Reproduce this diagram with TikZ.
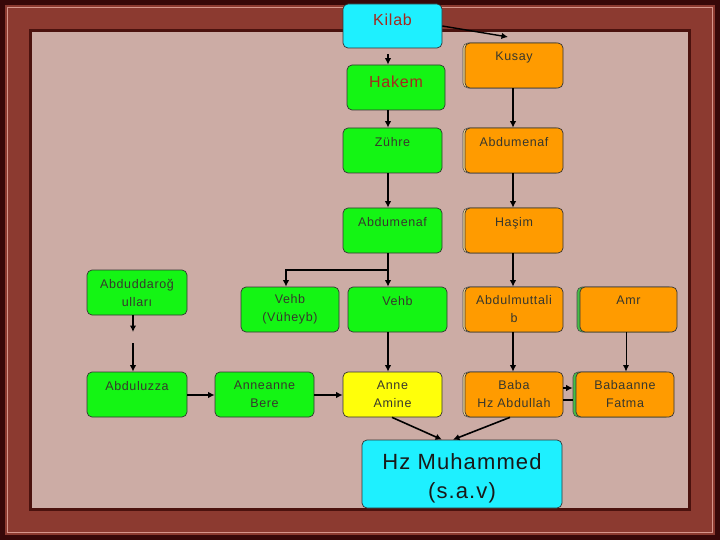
\documentclass[tikz,border=0pt]{standalone}
\usepackage{fontspec}
\setmainfont{Liberation Sans}
\newfontfamily\boxfont[LetterSpace=5]{Liberation Sans}
\usetikzlibrary{arrows.meta,shadows}
\definecolor{outerdark}{RGB}{55,8,8}
\definecolor{wood}{RGB}{140,58,48}
\definecolor{woodlight}{RGB}{215,150,140}
\definecolor{panel}{RGB}{204,172,165}
\definecolor{panelline}{RGB}{75,18,14}
\definecolor{cyanbox}{RGB}{30,240,255}
\definecolor{greenbox}{RGB}{20,245,20}
\definecolor{orangebox}{RGB}{255,155,0}
\definecolor{yellowbox}{RGB}{255,255,10}
\definecolor{txtdark}{RGB}{55,55,45}
\definecolor{txtred}{RGB}{165,40,30}
\definecolor{shadyel}{RGB}{255,225,150}
\definecolor{shadgreen}{RGB}{70,190,70}
\newcommand{\lowr}[1]{\raisebox{-4pt}[\height][\depth]{#1}}
\tikzset{
  box/.style={draw=black!80, line width=0.7pt, rounded corners=5pt, minimum width=99pt, minimum height=45pt,
    inner sep=1pt, align=center, text=txtdark, font=\boxfont\fontsize{12.5}{18}\selectfont},
  gbox/.style={box, fill=greenbox},
  obox/.style={box, fill=orangebox, minimum width=98pt,
    copy shadow={shadow xshift=-2pt, shadow yshift=0pt, fill=shadyel, draw=black!70, line width=0.6pt}},
  ogbox/.style={box, fill=orangebox, minimum width=97pt,
    copy shadow={shadow xshift=-3pt, shadow yshift=0pt, fill=shadgreen, draw=black!70, line width=0.6pt}},
  ybox/.style={box, fill=yellowbox},
  cbox/.style={box, fill=cyanbox},
  redtxt/.style={text=txtred, font=\boxfont\fontsize{16}{19}\selectfont, text height=0pt, text depth=0pt},
  arr/.style={line width=1.6pt, -{Latex[length=6.5pt,width=6.5pt]}},
  thinarr/.style={line width=1pt, -{Latex[length=6.5pt,width=6pt]}},
  plain/.style={line width=1.6pt}
}
\begin{document}
\begin{tikzpicture}[x=1pt,y=-1pt]
\useasboundingbox (0,0) rectangle (720,540);
% frame
\fill[outerdark] (0,0) rectangle (720,540);
\fill[wood] (5,5) rectangle (715,535);
\draw[woodlight, line width=1pt] (7.5,7.5) rectangle (712.5,532.5);
\fill[panelline] (29,29) rectangle (691,511);
\fill[panel] (32,32) rectangle (688,508);

% nodes
\node[cbox, redtxt, minimum height=44pt] (kilab) at (392.5,26) {Kilab};
\node[obox] (kusay) at (514,65.5) {Kusay\\~};
\node[gbox, redtxt, minimum width=98pt] (hakem) at (396,87.5) {Hakem};
\node[gbox] (zuhre) at (392.5,150.5) {Zühre\\~};
\node[obox] (abdo) at (514,150.5) {Abdumenaf\\~};
\node[gbox] (abdg) at (392.5,230.5) {Abdumenaf\\~};
\node[obox] (hasim) at (514,230.5) {Haşim\\~};
\node[gbox, minimum width=100pt] (abdud) at (137,292.5) {Abduddaroğ\\ulları};
\node[gbox, minimum width=98pt] (vuheyb) at (290,309.5) {Vehb\\(Vüheyb)};
\node[gbox] (vehb) at (397.5,309.5) {Vehb\\~};
\node[obox] (abdmut) at (514,309.5) {Abdulmuttali\\b};
\node[ogbox] (amr) at (628.5,309.5) {Amr\\~};
\node[gbox, minimum width=100pt] (abduluzza) at (137,394.5) {Abduluzza\\~};
\node[gbox] (bere) at (264.5,394.5) {Anneanne\\Bere};
\node[ybox] (amine) at (392.5,394.5) {Anne\\Amine};
\node[obox] (baba) at (514,394.5) {Baba\\Hz Abdullah};
\node[ogbox, minimum width=98pt] (babaanne) at (625,394.5) {Babaanne\\Fatma};
\node[cbox, minimum width=200pt, minimum height=68pt, font=\boxfont\fontsize{22}{29}\selectfont, text=black!90] (muhammed) at (462,474) {\lowr{Hz Muhammed}\\\lowr{(s.a.v)}};

% connectors
\coordinate (kusayin) at (508,37);
\draw[line width=1.4pt, -{Latex[length=6.5pt,width=6.5pt]}] (kilab.east) -- (kusayin);
\draw[arr, shorten <=6pt] (kilab.south -| 388,0) -- (hakem.north -| 388,0);
\draw[arr] (hakem.south -| 388,0) -- (zuhre.north -| 388,0);
\draw[arr] (kusay.south -| 513,0) -- (abdo.north -| 513,0);
\draw[arr] (zuhre.south -| 388,0) -- (abdg.north -| 388,0);
\draw[arr] (abdo.south -| 513,0) -- (hasim.north -| 513,0);
\draw[arr] (abdg.south -| 388,0) -- (vehb.north -| 388,0);
\coordinate (branch) at (388,270);
\draw[arr] (branch) -| (vuheyb.north -| 286,0);
\draw[arr] (hasim.south -| 513,0) -- (abdmut.north -| 513,0);
\coordinate (midA) at (133,332);
\coordinate (midB) at (133,343);
\draw[arr] (abdud.south -| 133,0) -- (midA);
\draw[arr] (midB) -- (abduluzza.north -| 133,0);
\draw[arr] (abduluzza.east |- 0,395) -- (bere.west |- 0,395);
\draw[arr] (bere.east |- 0,395) -- (amine.west |- 0,395);
\draw[arr] (vehb.south -| 388,0) -- (amine.north -| 388,0);
\draw[arr] (abdmut.south -| 513,0) -- (baba.north -| 513,0);
\draw[thinarr] (amr.south -| 626,0) -- (babaanne.north -| 626,0);
\draw[arr, shorten >=3pt] (baba.east |- 0,388) -- (babaanne.west |- 0,388);
\draw[plain, shorten >=3pt] (baba.east |- 0,400) -- (babaanne.west |- 0,400);
\draw[arr] (amine.south -| 392,0) -- (muhammed.north -| 442,0);
\draw[arr] (baba.south -| 510,0) -- (muhammed.north -| 453,0);
\end{tikzpicture}
\end{document}
